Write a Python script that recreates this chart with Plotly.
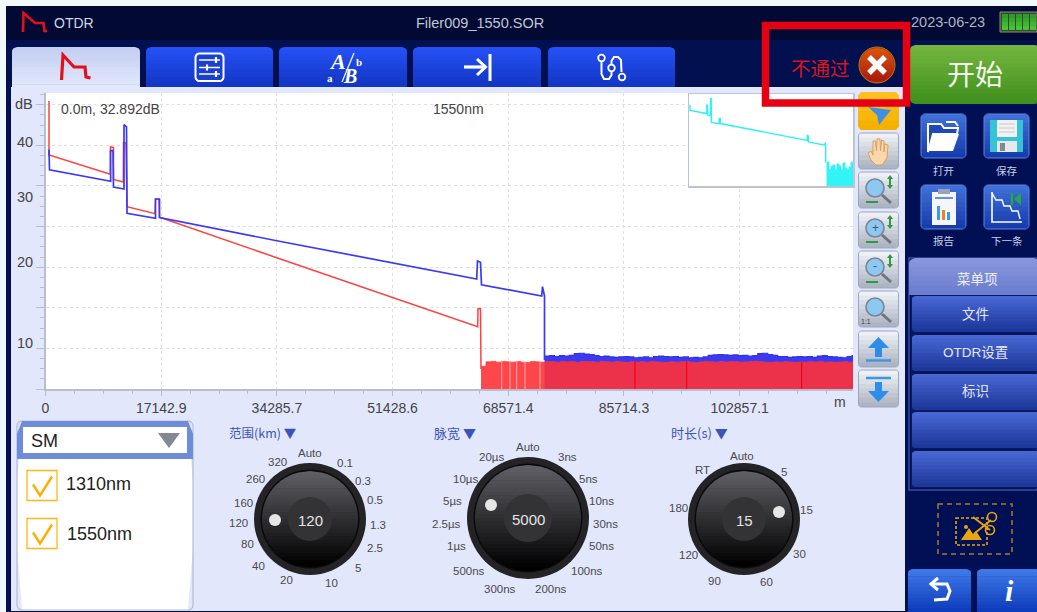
import math
import numpy as np
import plotly.graph_objects as go

W, H = 1037, 612
FONT = "Liberation Sans, Noto Sans CJK SC, sans-serif"
NARROW = "Liberation Sans Narrow, Liberation Sans, Noto Sans CJK SC, sans-serif"
CJK = "Noto Sans CJK SC, Liberation Sans, sans-serif"

# ---------- chart data (metres, dB) ----------
red_m = [519, 519, 519, 9602, 9631, 10076, 10076, 11528, 11557, 11928, 12076, 16225, 16299, 16817, 16891,
         34153, 64039, 64084, 64454, 64528]
red_db = [33.82, 40.47, 33.82, 31.44, 34.84, 34.72, 30.80, 30.49, 35.33, 35.30, 27.45, 26.59, 28.36, 28.36,
          26.14, 21.20, 12.67, 14.89, 14.89, 7.46]
blue_m = [519, 519, 593, 9661, 9631, 10001, 10076, 11631, 11631, 12002, 12076, 16299, 16299, 16891, 16891,
          34257, 63891, 64009, 64454, 64602, 73522, 73640, 73937, 73937]
blue_db = [33.82, 34.50, 32.00, 30.58, 34.35, 34.35, 29.88, 29.63, 37.55, 37.27, 26.64, 26.02, 28.40, 28.40,
           26.10, 23.26, 18.55, 20.76, 20.60, 17.84, 16.45, 17.60, 16.45, 8.57]
red_noise_start_m, blue_noise_start_m, noise_step_m = 64528, 73937, 735
red_noise_db = [7.8, 8.35, 8.4, 8.3, 8.4, 8.35, 8.3, 8.4, 8.3, 8.25, 8.4, 8.35, 8.3, 8.4, 8.35, 8.3, 8.4, 8.35,
                8.4, 8.25, 8.4, 8.38, 8.35, 8.3, 8.4, 8.36, 8.3, 8.38, 8.34, 8.28, 8.35, 8.3, 8.36, 8.3, 8.38,
                8.34, 8.3, 8.28, 8.36, 8.3, 8.35, 8.38, 8.3, 8.26, 8.34, 8.4, 8.36, 8.3, 8.38, 8.32, 8.4, 8.36,
                8.3, 8.34, 8.38, 8.42, 8.36, 8.3, 8.28, 8.34, 8.3, 8.36, 8.32, 8.28, 8.34, 8.3, 8.36, 8.32, 8.38,
                8.3, 8.34, 8.28, 8.32, 8.36, 8.3, 8.34, 8.32, 8.3]
blue_noise_db = [9.05, 9.1, 9.0, 9.1, 9.05, 9.15, 9.35, 9.4, 9.3, 9.25, 9.1, 9.0, 9.05, 8.95, 8.9, 8.95, 9.0, 8.95,
                 8.85, 8.9, 8.95, 8.85, 9.0, 9.05, 9.0, 8.95, 9.0, 8.9, 8.95, 8.85, 8.9, 8.85, 8.95, 9.15, 9.2,
                 9.25, 9.2, 9.15, 9.2, 9.1, 9.15, 9.05, 9.1, 9.35, 9.4, 9.25, 9.15, 9.0, 9.0, 8.9, 8.95, 9.0,
                 8.95, 9.0, 8.9, 9.05, 9.1, 9.0, 8.95, 8.9, 8.85, 9.0, 9.1, 9.05]
white_gap_m = [67595, 68823, 69817, 71046, 73269]
dark_stem_m = [87345, 95000, 112040]
inset_noise_start_m, inset_noise_step_m = 74640, 1082
inset_noise_db = [8.85, 5.26, 7.06, 7.5, 5.26, 7.95, 7.06, 5.26, 8.4, 6.16, 5.26, 6.6, 8.85, 5.26]

x_tick_vals = [0, 17142.9, 34285.7, 51428.6, 68571.4, 85714.3, 102857.1]
x_tick_text = ["0", "17142.9", "34285.7", "51428.6", "68571.4", "85714.3", "102857.1"]
y_label_vals = [40.1, 35.42, 28.65, 20.64, 10.67]
y_label_text = ["dB", "40", "30", "20", "10"]

X_MAX, Y_MIN, Y_MAX = 119647, 5, 41.45
INSET_X_MAX, INSET_Y_MIN, INSET_Y_MAX = 88700, -1.9, 39.35
floor_db = Y_MIN

# ---------- knob labels ----------
range_labels = [("Auto", 310, 453), ("0.1", 345, 463), ("0.3", 363, 481), ("0.5", 375, 500), ("1.3", 378, 525),
                ("2.5", 375, 548), ("5", 358, 568), ("10", 331, 583), ("20", 286, 580), ("40", 258, 566),
                ("80", 247, 544), ("120", 238, 523), ("160", 243, 503), ("260", 255, 479), ("320", 277, 462)]
pulse_labels = [("Auto", 528, 447), ("3ns", 567, 457), ("5ns", 588, 479), ("10ns", 601, 501), ("30ns", 605, 524),
                ("50ns", 601, 546), ("100ns", 587, 571), ("200ns", 551, 589), ("300ns", 500, 589),
                ("500ns", 469, 571), ("1µs", 456, 546), ("2.5µs", 446, 524), ("5µs", 452, 501),
                ("10µs", 465, 479), ("20µs", 491, 457)]
time_labels = [("Auto", 742, 456), ("5", 784, 472), ("15", 806, 510), ("30", 799, 554), ("60", 766, 582),
               ("90", 714, 581), ("120", 688, 555), ("180", 678, 508), ("RT", 702, 470)]

shapes, notes = [], []


def fx(x): return x / W
def fy(y): return 1 - y / H


def poly(pts, fill=None, line=None, lw=1, layer="below", close=True, dash=None):
    d = "M" + " L".join(f"{fx(a):.5f},{fy(b):.5f}" for a, b in pts) + (" Z" if close else "")
    ln = dict(color=line, width=lw) if line else dict(width=0)
    if dash: ln["dash"] = dash
    s = dict(type="path", path=d, xref="paper", yref="paper", layer=layer, line=ln)
    if fill: s["fillcolor"] = fill
    shapes.append(s)


def rect(x0, y0, x1, y1, fill=None, line=None, lw=1, layer="below", dash=None):
    ln = dict(color=line, width=lw) if line else dict(width=0)
    if dash: ln["dash"] = dash
    s = dict(type="rect", x0=fx(x0), x1=fx(x1), y0=fy(y0), y1=fy(y1), xref="paper", yref="paper", layer=layer, line=ln)
    if fill: s["fillcolor"] = fill
    shapes.append(s)


def circ(cx, cy, r, fill=None, line=None, lw=1, layer="below"):
    ln = dict(color=line, width=lw) if line else dict(width=0)
    s = dict(type="circle", x0=fx(cx - r), x1=fx(cx + r), y0=fy(cy - r), y1=fy(cy + r), xref="paper", yref="paper",
             layer=layer, line=ln)
    if fill: s["fillcolor"] = fill
    shapes.append(s)


def mix(a, b, t):
    ca = [int(a[i:i + 2], 16) for i in (1, 3, 5)]
    cb = [int(b[i:i + 2], 16) for i in (1, 3, 5)]
    return "#" + "".join(f"{round(p + (q - p) * t):02x}" for p, q in zip(ca, cb))


def grad(x0, y0, x1, y1, r, top, bot, n=10, rtop=True, rbot=True, line=None, lw=1):
    def inset(y):
        if rtop and y < y0 + r:
            d = y0 + r - y
        elif rbot and y > y1 - r:
            d = y - (y1 - r)
        else:
            return 0
        return r - math.sqrt(max(r * r - d * d, 0))
    for i in range(n):
        ya = y0 + (y1 - y0) * i / n
        yb = min(y0 + (y1 - y0) * (i + 1) / n + 0.7, y1)
        ys = [ya + (yb - ya) * k / 3 for k in range(4)]
        left = [(x0 + inset(y), y) for y in ys]
        right = [(x1 - inset(y), y) for y in reversed(ys)]
        poly(left + right, fill=mix(top, bot, i / max(n - 1, 1)))
    if line:
        pts = []
        for k in range(9):
            a = math.pi + k / 8 * math.pi / 2
            rr = r if rtop else 0
            pts.append((x0 + rr + rr * math.cos(a), y0 + rr + rr * math.sin(a)))
        for k in range(9):
            a = -math.pi / 2 + k / 8 * math.pi / 2
            rr = r if rtop else 0
            pts.append((x1 - rr + rr * math.cos(a), y0 + rr + rr * math.sin(a)))
        for k in range(9):
            a = k / 8 * math.pi / 2
            rr = r if rbot else 0
            pts.append((x1 - rr + rr * math.cos(a), y1 - rr + rr * math.sin(a)))
        for k in range(9):
            a = math.pi / 2 + k / 8 * math.pi / 2
            rr = r if rbot else 0
            pts.append((x0 + rr + rr * math.cos(a), y1 - rr + rr * math.sin(a)))
        poly(pts, line=line, lw=lw)


def text(s, x, y, size=12, color="#444444", family=FONT, anchor="center", weight=None, style=None):
    f = dict(size=size, color=color, family=family)
    if weight: f["weight"] = weight
    if style: f["style"] = style
    notes.append(dict(text=s, x=fx(x), y=fy(y), xref="paper", yref="paper", xanchor=anchor, yanchor="middle",
                      showarrow=False, font=f, borderpad=0))


# ---------- page frame ----------
rect(0, 0, W, H, fill="#f1f9fd")
rect(6, 6, W, H, fill="#020a33")
rect(6, 40, W, H, fill="#03104f")
rect(905, 45, W, H, fill="#010f55")
rect(11, 87, 905, 611, fill="#e2e7fc")
rect(45.5, 93, 853, 389, fill="#ffffff")

# logo
poly([(23, 32), (23.5, 13), (35, 23), (43.5, 23), (44.5, 31), (47, 31)], line="#e2101c", lw=2.6, close=False)
text("OTDR", 74, 23, 14, "#cfd6e8")
text("Filer009_1550.SOR", 480, 23, 14.5, "#c0c6d6")
text("2023-06-23", 948, 22, 14.5, "#aeb4c4")
rect(1000, 12, 1037, 32, fill="#2f4a2a", line="#8a9080", lw=1)
for bx in [1002, 1009, 1016, 1023, 1030]:
    grad(bx, 14, bx + 6, 30, 0, "#2f9b2a", "#47c236", n=4, rtop=False, rbot=False)

# tabs
grad(12, 47, 140, 87.5, 5, "#c3cef0", "#e2e7fc", n=12, rbot=False)
for a, b in [(146, 273), (279, 407), (413, 541), (548, 675)]:
    grad(a, 47, b, 87, 5, "#2550f5", "#1237c4", n=12, rbot=False)
poly([(61.5, 80), (63, 55), (74, 67), (85, 67), (86, 77), (90.5, 78)], line="#e2101c", lw=3.2, close=False)
# tab: sliders
grad(195.5, 53.5, 223.5, 81, 4, "#1a40d2", "#1a40d2", n=1, line="#ffffff", lw=2)
for yy, kx in [(60, 216), (67.5, 207), (74, 216)]:
    poly([(199, yy), (220, yy)], line="#ffffff", lw=1.5, close=False)
    poly([(kx, yy - 3), (kx, yy + 3)], line="#ffffff", lw=2.2, close=False)
# tab: A/B
text("A", 337, 62, 22, "#ffffff", "Liberation Serif", weight=700, style="italic")
text("B", 350, 76, 20, "#ffffff", "Liberation Serif", weight=700, style="italic")
text("b", 359, 62, 11, "#ffffff", "Liberation Serif", weight=700)
text("a", 330, 78, 11, "#ffffff", "Liberation Serif", weight=700)
poly([(342, 82), (354, 53)], line="#ffffff", lw=1.2, close=False)
# tab: arrow
poly([(464, 67), (485, 67)], line="#ffffff", lw=3.2, close=False)
poly([(477, 59), (485.5, 67), (477, 75)], line="#ffffff", lw=3, close=False)
poly([(490, 54), (490, 81)], line="#ffffff", lw=3, close=False)
# tab: route
poly([(601.5, 62), (601.5, 74), (604, 79), (609, 79), (611.5, 75), (611.5, 61), (614, 57), (618, 57), (621, 60), (621.5, 72)],
     line="#ffffff", lw=2, close=False)
for c in [(601.5, 58), (611.5, 68), (622, 77)]:
    circ(c[0], c[1], 3.3, fill="#1a40d2", line="#ffffff", lw=1.8)

# ---------- fail indicator ----------
text("不通过", 820, 67, 19.5, "#d8141c", CJK)
circ(877, 65, 18, fill="#b8330f", line="#b07a10", lw=1)
grad(860, 48, 894, 82, 17, "#d9540e", "#aa1a0c", n=16)
poly([(869, 57), (885, 73)], line="#ffffff", lw=5.5, close=False)
poly([(885, 57), (869, 73)], line="#ffffff", lw=5.5, close=False)

# ---------- green start ----------
grad(910, 45, 1040, 104, 5, "#73b63e", "#418f1e", n=16, rbot=True)
text("开始", 975, 73, 28, "#f4f8ee", CJK)

# ---------- file buttons ----------
for bx0, by0, lab, ly in [(921, 114, "打开", 170), (984, 114, "保存", 170), (921, 185, "报告", 241), (984, 185, "下一条", 241)]:
    grad(bx0, by0, bx0 + 45, by0 + 44, 4, "#3f70d8", "#173cae", n=10, line="#5f86de", lw=1)
    text(lab, bx0 + 22.5, ly, 10.5, "#c9d0e6", CJK)
# open
poly([(928, 124), (941, 124), (944, 128), (958, 128), (957, 134), (933, 134), (928, 152)], fill="#1f49b8", line="#ffffff", lw=2)
poly([(933, 134), (959, 134), (953, 151), (928, 151)], fill="#ffffff")
poly([(946, 122), (955, 122), (958, 126)], line="#ffffff", lw=2, close=False)
# save
rect(990, 120, 1023, 152, fill="#36c3d8")
rect(997, 120, 1017, 137, fill="#f2f2f2")
for yy in [124, 128, 132]:
    poly([(999, yy), (1015, yy)], line="#c8ccd0", lw=1, close=False)
rect(997, 141, 1017, 152, fill="#e8e8e8")
rect(1000, 143, 1005, 151, fill="#7f8a90")
# report
rect(932, 192, 956, 225, fill="#f4f6fa")
rect(938, 189, 950, 194, fill="#9aa4b8")
poly([(935, 198), (953, 198)], line="#3a6ed8", lw=1.5, close=False)
rect(937, 206, 940, 220, fill="#3a9de0")
rect(942, 210, 945, 220, fill="#f08030")
rect(947, 212, 950, 220, fill="#3a9de0")
# next
poly([(992, 192), (992, 222), (1022, 222)], line="#ffffff", lw=1.6, close=False)
poly([(992, 193), (996, 200), (1002, 200), (1004, 206), (1010, 206), (1012, 211), (1018, 211), (1020, 219)], line="#ffffff", lw=1.4, close=False)
poly([(1012, 193), (1012, 205)], line="#28a745", lw=2.2, close=False)
poly([(1021, 193), (1014, 199), (1021, 205)], fill="#28a745")

# ---------- tool column ----------
grad(858, 92, 899, 130, 3, "#ffc020", "#f6b100", n=4)
poly([(868, 107), (891, 110), (879, 125), (877, 115)], fill="#3f8fe8")
tool_ys = [(133, 169), (172, 208), (212, 248), (251, 288), (291, 327), (331, 367), (370, 407)]
for (a, b) in tool_ys:
    grad(858.5, a, 898.5, b, 3, "#eef0f5", "#adb4c2", n=8, line="#9aa6c0", lw=1)
# hand
poly([(868, 153), (871, 151), (873, 155), (873, 141), (875.5, 141), (876.5, 151), (877, 139), (880, 139), (880.5, 151),
      (881.5, 140), (884, 141), (884, 152), (885, 144), (888, 145), (887, 158), (882, 165), (876, 165), (871, 160)],
     fill="#f9d8ae", line="#d8a060", lw=1)
for i, (a, b) in enumerate(tool_ys[1:5]):
    cx, cy = 875, a + 16
    poly([(cx + 7, cy + 7), (cx + 16, cy + 15)], line="#6d7480", lw=3, close=False)
    circ(cx, cy, 9, fill="#8cc8f2", line="#7a8494", lw=1.6)
    if i == 1:
        text("+", cx, cy, 12, "#555555")
    if i == 2:
        text("-", cx, cy - 1, 12, "#555555")
    if i == 3:
        text("1:1", cx - 9, b - 6, 7, "#444444")
    if i < 3:
        poly([(866, b - 6), (878, b - 6)], line="#2e9a3e", lw=2, close=False)
        poly([(890, a + 5), (890, a + 15)], line="#2e9a3e", lw=2, close=False)
        poly([(887, a + 7), (890, a + 3), (893, a + 7)], fill="#2e9a3e")
        poly([(887, a + 13), (890, a + 17), (893, a + 13)], fill="#2e9a3e")
# up / down arrows
poly([(878.5, 337), (889, 348), (882, 348), (882, 357), (875, 357), (875, 348), (868, 348)], fill="#2e8de8")
poly([(866, 360.5), (891, 360.5)], line="#3c96e6", lw=2.5, close=False)
poly([(878.5, 402), (889, 391), (882, 391), (882, 382), (875, 382), (875, 391), (868, 391)], fill="#2e8de8")
poly([(866, 378), (891, 378)], line="#3c96e6", lw=2.5, close=False)

# ---------- menu ----------
rect(909, 258, 1037, 490, line="#3b4da0", lw=1.5)
grad(909, 258, 1040, 295, 6, "#8795dc", "#6b7dce", n=8, rbot=False)
text("菜单项", 977, 278, 13.5, "#eef0fb", CJK)
for (a, b, lab) in [(296, 332, "文件"), (335, 371, "OTDR设置"), (374, 410, "标识"), (412, 448, ""), (451, 487, "")]:
    rect(911, a - 1, 1037, b + 1, fill="#081a60")
    grad(912, a, 1040, b, 3, "#4766d2", "#1d389a", n=10)
    if lab:
        text(lab, 975, (a + b) / 2, 13.5, "#e4e8f8", FONT)

# cut icon
rect(938, 504, 1012, 554, line="#a57e22", lw=1.5, dash="5px,4px")
rect(956, 518, 987, 545, line="#e6a511", lw=1.6, dash="3px,2px")
poly([(961, 540), (969, 528), (973, 534), (976, 531), (982, 540)], fill="#e6a511")
circ(966, 527, 2, fill="#e6a511")
poly([(973, 517), (990, 530)], line="#e6a511", lw=1.8, close=False)
poly([(975, 533), (991, 520)], line="#e6a511", lw=1.8, close=False)
circ(992, 517, 4.5, line="#e6a511", lw=1.6)
circ(990, 530, 4.5, line="#e6a511", lw=1.6)

# back / info
grad(908, 569, 971, 612, 4, "#3f78e6", "#0d3dbc", n=12, rbot=False)
grad(977, 569, 1040, 612, 4, "#3f78e6", "#0d3dbc", n=12, rbot=False)
poly([(931, 584), (947, 584), (950, 591), (947, 599), (934, 600)], line="#ffffff", lw=3, close=False)
poly([(938, 578), (931, 584), (938, 590)], line="#ffffff", lw=3, close=False)
text("i", 1009, 590, 30, "#ffffff", "Liberation Serif", weight=700, style="italic")

# ---------- wave selector ----------
grad(17, 421, 193, 610, 5, "#ffffff", "#ffffff", n=1, line="#b4bdd6", lw=1.2)
grad(17, 421, 193, 459, 5, "#6f8cdb", "#6f8cdb", n=1, rbot=False)
rect(23, 427, 187, 453, fill="#ffffff")
text("SM", 30, 441, 18, "#222222", anchor="left")
poly([(158, 433), (180, 433), (169, 448)], fill="#828894")
for a in [470.5, 518.5]:
    rect(27, a, 57, a + 30, fill="#ffffff", line="#ffb814", lw=1.3)
    poly([(33, a + 14), (40, a + 25), (52, a + 6)], line="#ffad00", lw=2.4, close=False)
text("1310nm", 65, 484, 18, "#222222", "Liberation Sans", anchor="left")
text("1550nm", 66, 534, 18, "#222222", "Liberation Sans", anchor="left")

# ---------- knobs ----------
def knob(cx, cy, r, disc, dot, val, labels):
    circ(cx, cy, r, fill="#242426")
    circ(cx, cy, r - 6.5, fill="#0a0a0a")
    grad(cx - r + 8, cy - r + 8, cx + r - 8, cy + r - 8, r - 8, "#5e5e64", "#000000", n=28)
    circ(cx, cy, disc, fill="#333336")
    circ(dot[0], dot[1], 6, fill="#e6e6e6")
    text(val, cx, cy + 1, 15, "#e4e4e4")
    for s, lx, ly in labels:
        text(s, lx, ly, 11.5, "#4a4a4a", NARROW)


knob(310, 519, 56, 22, (275, 520), "120", range_labels)
knob(528, 518, 61, 24, (491, 505), "5000", pulse_labels)
knob(744, 519, 56, 22, (779, 512), "15", time_labels)
text("范围(km) ▼", 228, 432, 12.5, "#3a55b8", CJK, anchor="left")
text("脉宽 ▼", 433, 432, 13, "#3a55b8", CJK, anchor="left")
text("时长(s) ▼", 670, 432, 13, "#3a55b8", CJK, anchor="left")

# ---------- text inside the plot ----------
text("0.0m, 32.892dB", 60, 109, 14, "#444444", anchor="left")
text("1550nm", 458, 109, 14, "#444444")
text("m", 840, 402, 14, "#444444")
for v, s in zip(y_label_vals, y_label_text):
    notes.append(dict(text=s, x=fx(35), xref="paper", y=v, yref="y", xanchor="right", yanchor="middle",
                      showarrow=False, font=dict(size=14.5, color="#444444", family=FONT)))

# red box
rect(765.5, 25.5, 906.5, 103, line="#e50012", lw=7.5, layer="above")

# ---------- traces ----------
fig = go.Figure()
LINE_RED, LINE_BLUE = "#ff4040", "#3a3af5"
blue_noise_m = blue_noise_start_m + noise_step_m * np.arange(len(blue_noise_db))
red_noise_m = red_noise_start_m + noise_step_m * np.arange(len(red_noise_db))
inset_noise_m = inset_noise_start_m + inset_noise_step_m * np.arange(len(inset_noise_db))

fig.add_trace(go.Scatter(x=red_m, y=red_db, mode="lines", line=dict(color=LINE_RED, width=1.5)))
fig.add_trace(go.Scatter(x=blue_m, y=blue_db, mode="lines", line=dict(color=LINE_BLUE, width=1.7)))
fig.add_trace(go.Scatter(x=blue_noise_m, y=blue_noise_db, mode="lines", fill="tozeroy", fillcolor="#3a3af0",
                         line=dict(color="#3030ee", width=1.2, shape="hv")))
fig.add_trace(go.Scatter(x=red_noise_m, y=red_noise_db, mode="lines", fill="tozeroy", fillcolor="rgba(255,50,55,0.9)",
                         line=dict(color="rgba(255,50,55,0.9)", width=0.8, shape="hv")))
gx, gy = [], []
for g in white_gap_m:
    gx += [g, g, None]
    gy += [floor_db, 8.5, None]
fig.add_trace(go.Scatter(x=gx, y=gy, mode="lines", line=dict(color="rgba(255,255,255,0.55)", width=1)))
dx, dy = [], []
for g in dark_stem_m:
    dx += [g, g, None]
    dy += [floor_db, 8.4, None]
fig.add_trace(go.Scatter(x=dx, y=dy, mode="lines", line=dict(color="#f5001a", width=1.2)))
fig.add_trace(go.Scatter(x=blue_m, y=blue_db, mode="lines", line=dict(color="#28f4f4", width=1.4),
                         xaxis="x2", yaxis="y2"))
ix = [inset_noise_start_m] + list(inset_noise_m) + [INSET_X_MAX, INSET_X_MAX, inset_noise_start_m]
iy = [INSET_Y_MIN] + list(inset_noise_db) + [inset_noise_db[-1], INSET_Y_MIN, INSET_Y_MIN]
fig.add_trace(go.Scatter(x=ix, y=iy, mode="lines", fill="toself", fillcolor="#33f4f4",
                         line=dict(color="#33f4f4", width=1, shape="hv"), xaxis="x2", yaxis="y2"))

shapes.append(dict(type="rect", xref="x2", yref="y2", x0=0, x1=INSET_X_MAX, y0=INSET_Y_MIN, y1=INSET_Y_MAX,
                   layer="between", fillcolor="#ffffff", line=dict(width=0)))

AXC = "#b8bdcf"
GRID = "#e0e0e0"
fig.update_layout(
    width=W, height=H, margin=dict(l=0, r=0, t=0, b=0, pad=0), autosize=False, showlegend=False,
    paper_bgcolor="rgba(0,0,0,0)", plot_bgcolor="rgba(0,0,0,0)",
    shapes=shapes, annotations=notes,
    xaxis=dict(domain=[fx(45.5), fx(853)], range=[0, X_MAX], anchor="y", tickmode="array", tickvals=x_tick_vals,
               ticktext=x_tick_text, ticks="outside", ticklen=5, tickcolor=AXC, showline=True, linecolor=AXC,
               linewidth=2, mirror=False, showgrid=True, gridcolor=GRID, griddash="dot", zeroline=False,
               automargin=False, tickfont=dict(size=14, color="#444444", family=FONT),
               minor=dict(tick0=0, dtick=4285.714, ticks="outside", ticklen=3, tickcolor=AXC, showgrid=False)),
    yaxis=dict(domain=[fy(389), fy(93)], range=[Y_MIN, Y_MAX], anchor="x", tick0=5, dtick=5, ticks="outside", ticklen=8,
               tickcolor=AXC, showline=True, linecolor=AXC, linewidth=2, showgrid=True, gridcolor=GRID,
               griddash="dot", zeroline=False, showticklabels=False, automargin=False,
               minor=dict(tick0=5, dtick=1.25, ticks="outside", ticklen=4, tickcolor=AXC, showgrid=False)),
    xaxis2=dict(domain=[fx(689), fx(853)], range=[0, INSET_X_MAX], anchor="y2", showgrid=False, zeroline=False,
                automargin=False, showticklabels=False, ticks="", showline=True, linecolor="#bcc3d4", linewidth=1.5, mirror=True),
    yaxis2=dict(domain=[fy(186), fy(94)], range=[INSET_Y_MIN, INSET_Y_MAX], anchor="x2", showgrid=False, zeroline=False,
                automargin=False, showticklabels=False, ticks="", showline=True, linecolor="#bcc3d4", linewidth=1.5, mirror=True),
)
fig.write_html("out.html", config=dict(displayModeBar=False, staticPlot=True),
               post_script="document.body.style.margin='0';document.body.style.overflow='hidden';")
